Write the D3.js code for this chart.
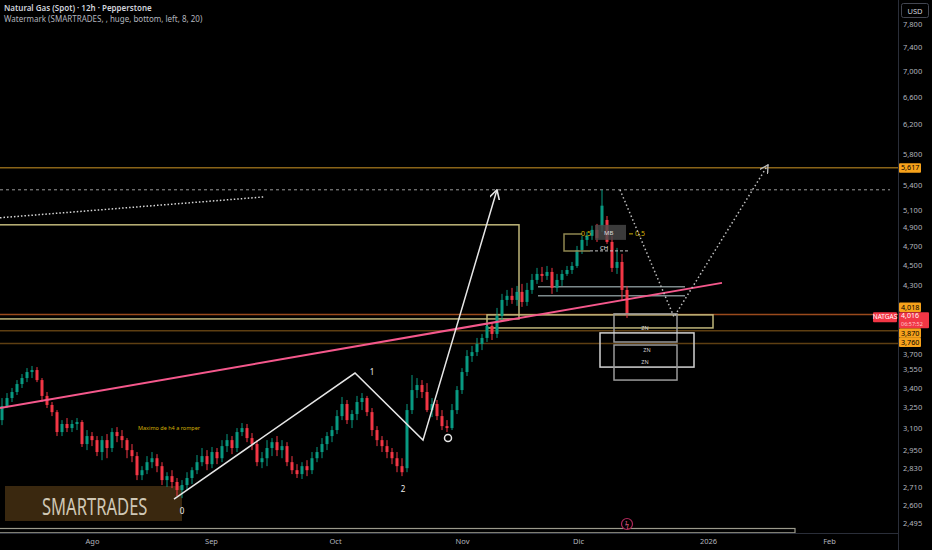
<!DOCTYPE html>
<html>
<head>
<meta charset="utf-8">
<script src="https://cdn.jsdelivr.net/npm/d3@7"></script>
<style>
  body { margin: 0; background: #000; }
  svg { display: block; font-family: "Noto Sans", "DejaVu Sans", sans-serif; }
</style>
</head>
<body>
<svg id="chart" width="932" height="550"></svg>
<script>
// NATGAS 12h candles: [open, high, low, close]
const candles = [
  [3.157,3.320,3.121,3.260],[3.260,3.358,3.245,3.320],[3.320,3.397,3.290,3.366],[3.366,3.459,3.343,3.428],
  [3.428,3.507,3.397,3.475],[3.475,3.555,3.443,3.523],[3.523,3.572,3.475,3.539],[3.539,3.563,3.443,3.459],
  [3.459,3.475,3.290,3.336],[3.336,3.366,3.245,3.268],[3.268,3.290,3.186,3.215],[3.215,3.230,3.044,3.072],
  [3.072,3.157,3.044,3.129],[3.129,3.172,3.072,3.100],[3.100,3.157,3.072,3.129],[3.129,3.172,3.086,3.143],
  [3.143,3.157,2.969,2.989],[2.989,3.086,2.948,3.044],[3.044,3.072,2.975,3.016],[3.016,3.044,2.908,2.935],
  [2.935,3.044,2.881,3.016],[3.016,3.058,2.894,2.962],[2.962,3.100,2.935,3.072],[3.072,3.107,3.002,3.044],
  [3.044,3.086,2.962,3.016],[3.016,3.030,2.894,2.948],[2.948,2.989,2.868,2.908],[2.908,2.935,2.753,2.784],
  [2.784,2.842,2.753,2.816],[2.816,2.908,2.791,2.868],[2.868,2.935,2.829,2.894],[2.894,2.921,2.803,2.842],
  [2.842,2.868,2.722,2.753],[2.753,2.803,2.710,2.778],[2.778,2.816,2.703,2.741],[2.741,2.766,2.654,2.691],
  [2.691,2.753,2.642,2.722],[2.722,2.803,2.691,2.766],[2.766,2.835,2.728,2.816],[2.816,2.915,2.791,2.868],
  [2.868,2.962,2.842,2.908],[2.908,2.948,2.816,2.855],[2.855,2.969,2.829,2.935],[2.935,2.962,2.855,2.894],
  [2.894,3.016,2.868,2.975],[2.975,3.058,2.935,3.016],[3.016,3.044,2.921,2.962],[2.962,3.100,2.935,3.072],
  [3.072,3.136,3.044,3.100],[3.100,3.129,3.002,3.030],[3.030,3.065,2.948,2.989],[2.989,3.016,2.842,2.868],
  [2.868,2.935,2.829,2.894],[2.894,3.016,2.842,2.962],[2.962,3.030,2.908,3.002],[3.002,3.044,2.908,2.948],
  [2.948,3.016,2.894,2.975],[2.975,3.002,2.842,2.868],[2.868,2.908,2.791,2.816],[2.816,2.855,2.766,2.791],
  [2.791,2.868,2.760,2.842],[2.842,2.881,2.778,2.816],[2.816,2.935,2.791,2.894],[2.894,2.969,2.868,2.935],
  [2.935,3.030,2.894,2.989],[2.989,3.072,2.948,3.044],[3.044,3.114,3.002,3.086],[3.086,3.230,3.058,3.186],
  [3.186,3.328,3.157,3.275],[3.275,3.305,3.129,3.157],[3.157,3.230,3.100,3.201],[3.201,3.336,3.157,3.290],
  [3.290,3.358,3.230,3.320],[3.320,3.336,3.186,3.215],[3.215,3.245,3.044,3.086],[3.086,3.114,2.975,3.016],
  [3.016,3.044,2.935,2.975],[2.975,3.016,2.894,2.935],[2.935,2.962,2.855,2.894],[2.894,2.935,2.803,2.842],
  [2.842,2.894,2.778,2.803],[2.829,3.275,2.803,3.230],[3.230,3.499,3.201,3.381],[3.381,3.475,3.320,3.420],
  [3.420,3.459,3.320,3.366],[3.366,3.435,3.215,3.230],[3.230,3.320,3.179,3.275],[3.275,3.305,3.157,3.186],
  [3.186,3.230,3.086,3.114],[3.114,3.157,3.072,3.100],[3.100,3.275,3.086,3.230],[3.230,3.412,3.201,3.381],
  [3.381,3.555,3.351,3.523],[3.523,3.704,3.491,3.654],[3.654,3.739,3.605,3.687],[3.687,3.808,3.654,3.756],
  [3.756,3.843,3.704,3.808],[3.808,3.949,3.773,3.914],[3.914,3.949,3.790,3.843],[3.843,4.078,3.808,4.004],
  [4.004,4.211,3.967,4.153],[4.153,4.249,4.097,4.192],[4.192,4.269,4.116,4.153],[4.153,4.288,4.097,4.230],
  [4.230,4.308,4.088,4.134],[4.134,4.318,4.097,4.249],[4.249,4.407,4.211,4.347],[4.347,4.468,4.308,4.407],
  [4.407,4.478,4.327,4.387],[4.387,4.488,4.347,4.427],[4.427,4.468,4.211,4.269],[4.269,4.407,4.230,4.347],
  [4.347,4.447,4.288,4.407],[4.407,4.488,4.387,4.447],[4.447,4.529,4.407,4.488],[4.488,4.698,4.468,4.655],
  [4.655,4.807,4.613,4.763],[4.763,4.851,4.698,4.807],[4.807,4.920,4.763,4.873],[4.873,4.940,4.741,4.785],
  [4.920,5.340,4.851,5.150],[4.985,5.030,4.720,4.741],[4.741,4.807,4.427,4.468],[4.468,4.677,4.407,4.529],
  [4.529,4.613,4.153,4.249],[4.249,4.288,3.986,4.016]
];

// time axis (bar index positions of month starts)
const monthLabels = ["Ago", "Sep", "Oct", "Nov", "Dic", "2026", "Feb"];
const monthIdx = [18, 41.8, 66.6, 92, 115.2, 141.2, 165.4];

// price axis
const priceTicks = [7.8, 7.4, 7.0, 6.6, 6.2, 5.8, 5.4, 5.1, 4.9, 4.7, 4.5, 4.3, 3.7, 3.55, 3.4, 3.25, 3.1, 2.95, 2.83, 2.71, 2.6, 2.495];
const levelPrices = [5.617, 4.018, 3.870, 3.760];
const lastPrice = 4.016;
const countdown = "06:57:52";

// drawings, as [bar index, price]
const trendLine = [[-0.4, 3.245], [144, 4.318]];
const bigBox = [[-2, 4.93], [103.4, 3.977]];
const zoneBox = [[97, 4.014], [142.2, 3.896]];
const greyLines = [4.28, 4.192];
const greyLineSpan = [107.2, 136.6];
const znBoxes = [[[122.4, 4.023], [135, 3.773]], [[119.6, 3.852], [138.4, 3.563]], [[122.4, 3.747], [135, 3.459]]];
const znLabels = [[128.6, 3.895], [129, 3.70], [128.6, 3.60]];
const waveLine = [[34.4, 2.636], [70.6, 3.515], [84.2, 3.016], [99, 5.34]];
const waveLabels = [["0", 36, 2.55], ["1", 74, 3.50], ["2", 80.2, 2.68]];
const projection = [[123.6, 5.34], [134.4, 3.995], [153.2, 5.653]];
const dottedRise = [[-0.4, 5.01], [52.6, 5.255]];
const highDashed = 5.34;
const lowCircle = [89.2, 3.03];
const fibTop = 4.829, fibBottom = 4.645;
const fibSpan = [112.4, 116, 125.2];
const noteText = "Maximo de h4 a romper";
const notePos = [27.2, 3.10];
const rangeBox = [[-2, 2.465], [158.6, 2.441]];
const eventIdx = 125;

const W = 932, H = 550, plotRight = 898, plotBottom = 533;
const svg = d3.select("#chart");
svg.append("rect").attr("width", W).attr("height", H).attr("fill", "#000");

const x = d3.scaleLinear().domain([0, candles.length - 1]).range([2, 627]);
const y = d3.scaleLog().domain([2.495, 7.8]).range([523.2, 23.8]);
const fmt = v => d3.format(".3f")(v).replace(".", ",");

const plot = svg.append("g");

// watermark
plot.append("rect").attr("x", 5).attr("y", 486).attr("width", 177).attr("height", 35).attr("fill", "#3a280f");
plot.append("text").attr("transform", "translate(42,515) scale(0.72,1)").attr("font-size", 23)
  .attr("fill", "#cfc7b5").text("SMARTRADES");

// horizontal levels
const levelColors = ["#8a6418", "#9a4a1c", "#5e3f12", "#5e3f12"];
plot.selectAll("line.level").data(levelPrices).enter().append("line")
  .attr("x1", 0).attr("x2", plotRight)
  .attr("y1", d => y(d)).attr("y2", d => y(d))
  .attr("stroke", (d, i) => levelColors[i]).attr("stroke-width", 1.5);

// rectangles
function box(b, color, w) {
  plot.append("rect")
    .attr("x", x(b[0][0])).attr("y", y(b[0][1]))
    .attr("width", x(b[1][0]) - x(b[0][0])).attr("height", y(b[1][1]) - y(b[0][1]))
    .attr("fill", "none").attr("stroke", color).attr("stroke-width", w);
}
box(bigBox, "#bfb67a", 1.5);
box(zoneBox, "#bfb67a", 1.5);
box(rangeBox, "#9b9a8c", 1.2);

// dashed high
plot.append("line").attr("x1", 0).attr("x2", 890)
  .attr("y1", y(highDashed)).attr("y2", y(highDashed))
  .attr("stroke", "#9a9a9a").attr("stroke-dasharray", "3,3");

// grey support lines
plot.selectAll("line.grey").data(greyLines).enter().append("line")
  .attr("x1", x(greyLineSpan[0])).attr("x2", x(greyLineSpan[1]))
  .attr("y1", d => y(d)).attr("y2", d => y(d))
  .attr("stroke", "#7d8a8c").attr("stroke-width", 1.5);

// candles
const up = "#089981", down = "#f23645";
const c = plot.selectAll("g.candle").data(candles).enter().append("g");
c.append("line")
  .attr("x1", (d, i) => x(i)).attr("x2", (d, i) => x(i))
  .attr("y1", d => y(d[1])).attr("y2", d => y(d[2]))
  .attr("stroke", d => d[3] >= d[0] ? up : down).attr("stroke-width", 1);
c.append("rect")
  .attr("x", (d, i) => x(i) - 1.5).attr("width", 3)
  .attr("y", d => y(Math.max(d[0], d[3])))
  .attr("height", d => Math.max(1, Math.abs(y(d[0]) - y(d[3]))))
  .attr("fill", d => d[3] >= d[0] ? up : down);

// pink trend line
const line = d3.line().x(d => x(d[0])).y(d => y(d[1]));
plot.append("path").attr("d", line(trendLine)).attr("fill", "none")
  .attr("stroke", "#f5588c").attr("stroke-width", 2);

// fib piece
plot.append("path")
  .attr("d", d3.line()([[x(fibSpan[1]), y(fibTop)], [x(fibSpan[0]), y(fibTop)], [x(fibSpan[0]), y(fibBottom)], [x(fibSpan[1]) + 8, y(fibBottom)]]))
  .attr("fill", "none").attr("stroke", "#8f8650").attr("stroke-width", 1.5);
plot.append("line").attr("x1", x(fibSpan[1]) + 8).attr("x2", x(fibSpan[2]))
  .attr("y1", y(fibBottom)).attr("y2", y(fibBottom))
  .attr("stroke", "#c8c8c8").attr("stroke-dasharray", "3,2");
plot.append("rect").attr("x", x(fibSpan[1]) + 13).attr("y", y(fibTop) - 9)
  .attr("width", 31).attr("height", 15).attr("fill", "#4a4a4a").attr("opacity", 0.8);
plot.append("text").attr("x", x(fibSpan[1]) + 22).attr("y", y(fibTop) + 1)
  .attr("font-size", 6).attr("fill", "#ddd").text("MB");
plot.append("line").attr("x1", x(fibSpan[2]) + 1).attr("x2", x(fibSpan[2]) + 5)
  .attr("y1", y(fibTop)).attr("y2", y(fibTop)).attr("stroke", "#d4b106");
plot.selectAll("text.fib").data([x(fibSpan[1]) - 1, x(fibSpan[2]) + 7]).enter().append("text")
  .attr("x", d => d).attr("y", y(fibTop) + 2.5)
  .attr("font-size", 7).attr("fill", "#d4b106").text("0,5");
plot.append("text").attr("x", x(fibSpan[1]) + 18).attr("y", y(fibBottom) - 1)
  .attr("font-size", 6).attr("fill", "#e8e8e8").text("CH");

// ZN boxes
const znColors = ["#9a9a9a", "#d2d2d2", "#9a9a9a"];
znBoxes.forEach((b, i) => box(b, znColors[i], 1.5));
plot.selectAll("text.zn").data(znLabels).enter().append("text")
  .attr("x", d => x(d[0])).attr("y", d => y(d[1]))
  .attr("text-anchor", "middle").attr("dominant-baseline", "middle")
  .attr("font-size", 5.5).attr("fill", "#d0d0d0").text("ZN");

// wave count line with arrow
const defs = svg.append("defs");
defs.append("marker").attr("id", "arrow").attr("viewBox", "0 0 10 10")
  .attr("refX", 9).attr("refY", 5).attr("markerWidth", 7).attr("markerHeight", 7).attr("orient", "auto")
  .append("path").attr("d", "M0,0 L9,5 L0,10").attr("fill", "none").attr("stroke", "#e6e6e6").attr("stroke-width", 1.5);
plot.append("path").attr("d", line(waveLine)).attr("fill", "none")
  .attr("stroke", "#e6e6e6").attr("stroke-width", 1.5).attr("marker-end", "url(#arrow)");
plot.selectAll("text.wave").data(waveLabels).enter().append("text")
  .attr("x", d => x(d[1])).attr("y", d => y(d[2]))
  .attr("text-anchor", "middle").attr("font-size", 8).attr("fill", "#ececec").text(d => d[0]);
plot.append("circle").attr("cx", x(lowCircle[0])).attr("cy", y(lowCircle[1])).attr("r", 3.5)
  .attr("fill", "none").attr("stroke", "#e6e6e6").attr("stroke-width", 1.5);

// dotted projections
defs.append("marker").attr("id", "arrow2").attr("viewBox", "0 0 10 10")
  .attr("refX", 9).attr("refY", 5).attr("markerWidth", 6).attr("markerHeight", 6).attr("orient", "auto")
  .append("path").attr("d", "M0,0 L9,5 L0,10").attr("fill", "none").attr("stroke", "#bbb").attr("stroke-width", 1.5);
plot.append("path").attr("d", line(projection)).attr("fill", "none")
  .attr("stroke", "#bdbdbd").attr("stroke-width", 1.5).attr("stroke-dasharray", "1.5,2.5")
  .attr("marker-end", "url(#arrow2)");
plot.append("path").attr("d", line(dottedRise)).attr("fill", "none")
  .attr("stroke", "#d8d8d8").attr("stroke-width", 1.5).attr("stroke-dasharray", "1.5,2");

// note
plot.append("text").attr("x", x(notePos[0])).attr("y", y(notePos[1]) + 2)
  .attr("font-size", 5.5).attr("fill", "#d4b106").text(noteText);

// event marker
plot.append("circle").attr("cx", x(eventIdx)).attr("cy", 524).attr("r", 5.5)
  .attr("fill", "#000").attr("stroke", "#b0285a").attr("stroke-width", 1.2);
plot.append("text").attr("x", x(eventIdx)).attr("y", 527).attr("text-anchor", "middle")
  .attr("font-size", 7).attr("fill", "#e0608a").text("ϟ");

// separators
svg.append("line").attr("x1", 0).attr("x2", plotRight).attr("y1", plotBottom + 0.5).attr("y2", plotBottom + 0.5).attr("stroke", "#2a2e39");
svg.append("line").attr("x1", plotRight + 0.5).attr("x2", plotRight + 0.5).attr("y1", 0).attr("y2", H).attr("stroke", "#2a2e39");

// price axis
const yAxis = svg.append("g").attr("transform", `translate(${plotRight},0)`)
  .call(d3.axisRight(y).tickValues(priceTicks).tickFormat(fmt).tickSize(0).tickPadding(5));
yAxis.select(".domain").remove();
yAxis.selectAll("text").attr("fill", "#b2b5be").attr("font-size", 7.5).attr("font-family", "Noto Sans, sans-serif");
// the 3,700 label peeks out below the 3,760 badge
yAxis.selectAll(".tick").filter(d => d === 3.7).select("text").attr("y", 3.5);

// USD badge
svg.append("rect").attr("x", 901.5).attr("y", 3.5).attr("width", 27).attr("height", 14).attr("rx", 2)
  .attr("fill", "#000").attr("stroke", "#434651");
svg.append("text").attr("x", 915).attr("y", 13.5).attr("text-anchor", "middle")
  .attr("font-size", 7.5).attr("fill", "#d1d4dc").text("USD");

// level badges (nudged apart like the platform does)
const badgeShift = [0, -7.5, 2, -1.5];
levelPrices.forEach((p, i) => {
  const cy = y(p) + badgeShift[i];
  svg.append("rect").attr("x", 899).attr("y", cy - 4.5).attr("width", 22).attr("height", 9.5).attr("rx", 1).attr("fill", "#f7a21b");
  svg.append("text").attr("x", 901).attr("y", cy + 2.7).attr("font-size", 7.2).attr("fill", "#000").text(fmt(p));
});
const ly = y(lastPrice) + 4;
svg.append("rect").attr("x", 899).attr("y", ly - 6.5).attr("width", 30).attr("height", 16).attr("rx", 1).attr("fill", "#f23645");
svg.append("text").attr("x", 901).attr("y", ly - 0.3).attr("font-size", 7).attr("fill", "#fff").text(fmt(lastPrice));
svg.append("text").attr("x", 901).attr("y", ly + 7.7).attr("font-size", 5.5).attr("fill", "#ffc7cc").text(countdown);
svg.append("rect").attr("x", 873).attr("y", ly - 6.5).attr("width", 24).attr("height", 10).attr("rx", 1).attr("fill", "#f23645");
svg.append("text").attr("x", 885).attr("y", ly + 0.8).attr("text-anchor", "middle").attr("font-size", 6.5).attr("fill", "#fff").text("NATGAS");

// time axis
const xAxis = svg.append("g").attr("transform", `translate(0,${plotBottom})`)
  .call(d3.axisBottom(x).tickValues(monthIdx).tickFormat((d, i) => monthLabels[i]).tickSize(0).tickPadding(6));
xAxis.select(".domain").remove();
xAxis.selectAll("text").attr("fill", "#b2b5be").attr("font-size", 7.5).attr("font-family", "Noto Sans, sans-serif");

// header
svg.append("text").attr("x", 4).attr("y", 11).attr("font-size", 8).attr("font-weight", 600)
  .attr("fill", "#d1d4dc").text("Natural Gas (Spot) · 12h · Pepperstone");
svg.append("text").attr("x", 4).attr("y", 22).attr("font-size", 8)
  .attr("fill", "#b2b5be").text("Watermark (SMARTRADES, , huge, bottom, left, 8, 20)");
</script>
</body>
</html>
